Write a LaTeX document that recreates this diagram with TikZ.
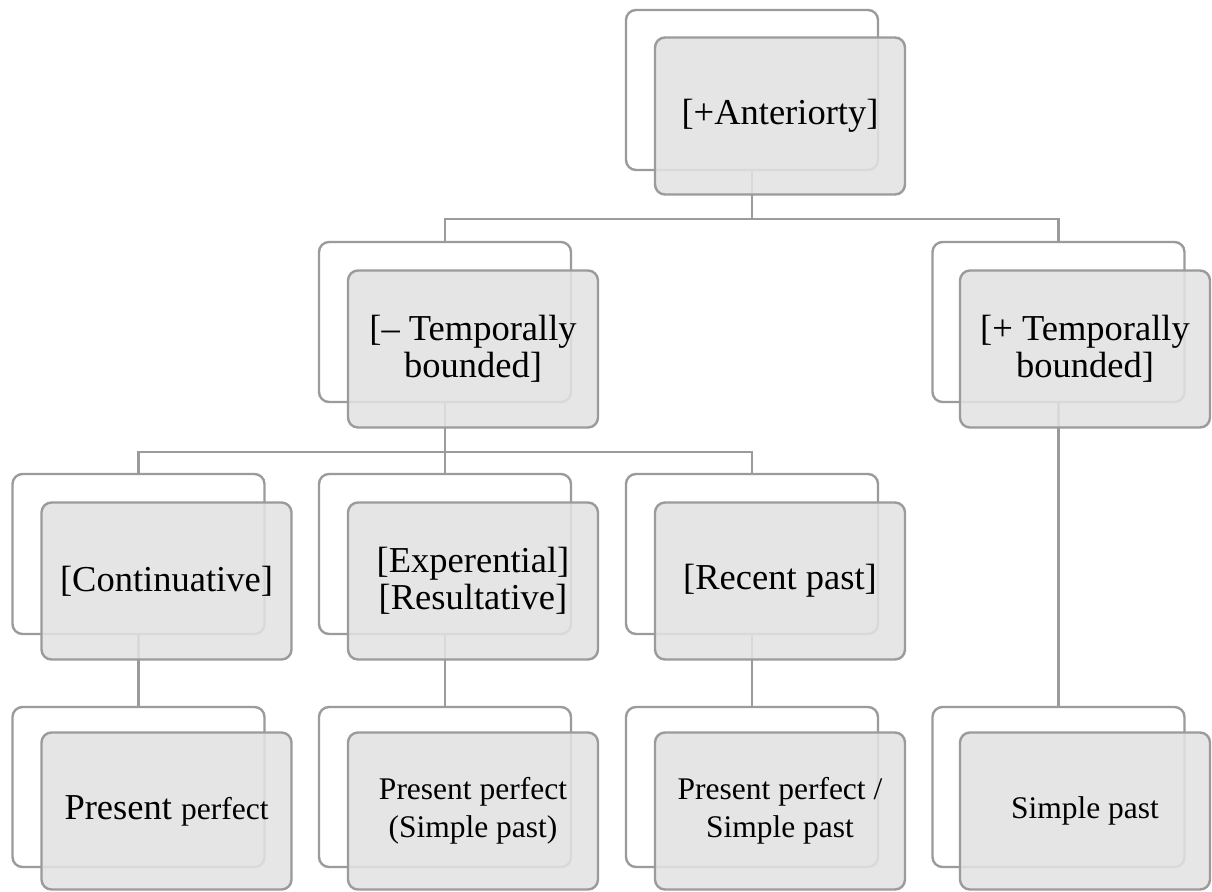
\documentclass[tikz,border=0pt]{standalone}
\usepackage{fontspec}
\setmainfont{Liberation Serif}
\definecolor{lineg}{RGB}{155,155,155}
\definecolor{fillg}{RGB}{226,226,226}
\begin{document}
\begin{tikzpicture}[x=1pt,y=-1pt,
  backbox/.style={draw=lineg, line width=2.4pt, rounded corners=10pt, fill=white,
    minimum width=252pt, minimum height=160pt, inner sep=0pt},
  frontbox/.style={draw=lineg, line width=2.4pt, rounded corners=10pt, fill=fillg,
    fill opacity=0.88, text opacity=1, draw opacity=1,
    minimum width=250pt, minimum height=157pt, inner sep=0pt, align=center},
  bigtxt/.style={font=\fontsize{36.5}{37.5}\selectfont},
  smalltxt/.style={font=\fontsize{31.5}{38}\selectfont},
  conn/.style={draw=lineg, line width=2.2pt}]
\useasboundingbox (0,0) rectangle (1212,891);
% back boxes
\node[backbox] (tB) at (752,90) {};
\node[backbox] (lB) at (445,322) {};
\node[backbox] (rB) at (1058.5,322) {};
\node[backbox] (cB) at (138.5,554) {};
\node[backbox] (eB) at (445,554) {};
\node[backbox] (pB) at (752,554) {};
\node[backbox] (c4B) at (138.5,787) {};
\node[backbox] (e4B) at (445,787) {};
\node[backbox] (p4B) at (752,787) {};
\node[backbox] (r4B) at (1058.5,787) {};
% connectors
\coordinate (bus1) at (0,219);
\coordinate (bus2) at (0,452);
\draw[conn] (tB.south) -- (tB.south |- bus1) -| (lB.north);
\draw[conn] (tB.south |- bus1) -| (rB.north);
\draw[conn] (lB.south) -- (lB.south |- bus2) -| (cB.north);
\draw[conn] (lB.south |- bus2) -| (pB.north);
\draw[conn] (lB.south |- bus2) -- (eB.north);
\draw[conn] (cB.south) -- (c4B.north);
\draw[conn] (eB.south) -- (e4B.north);
\draw[conn] (pB.south) -- (p4B.north);
\draw[conn] (rB.south) -- (r4B.north);
% front boxes
\node[frontbox,bigtxt] (tF) at (780,116) {[+Anteriorty]};
\node[frontbox,bigtxt] (lF) at (473,349) {[– Temporally\\bounded]};
\node[frontbox,bigtxt] (rF) at (1085,349) {[+ Temporally\\bounded]};
\node[frontbox,bigtxt] (cF) at (166.5,581) {[Continuative]};
\node[frontbox,bigtxt] (eF) at (473,581) {[Experential]\\{}[Resultative]};
\node[frontbox,bigtxt] (pF) at (780,581) {[Recent past]};
\node[frontbox,bigtxt] (c4F) at (166.5,811) {Present {\fontsize{31.5}{38}\selectfont perfect}};
\node[frontbox,smalltxt] (e4F) at (473,811) {Present perfect\\(Simple past)};
\node[frontbox,smalltxt] (p4F) at (780,811) {Present perfect /\\Simple past};
\node[frontbox,smalltxt] (r4F) at (1085,811) {Simple past};
\end{tikzpicture}
\end{document}
